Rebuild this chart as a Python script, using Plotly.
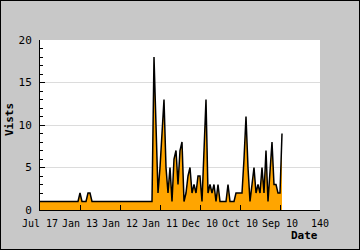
import plotly.graph_objects as go

# ---- data ----
visits = [1]*20 + [2, 1, 1, 1, 2, 2] + [1]*31 + [
    18, 10, 2, 5, 9, 13, 5, 2, 5, 1,      # 57-66
    6, 7, 3, 7, 8, 1, 2, 4, 5, 2,         # 67-76
    3, 2, 4, 4, 1, 7, 13, 2, 3, 2,        # 77-86
    3, 1, 3, 1, 1, 1, 1, 3, 1, 1,         # 87-96
    1, 2, 2, 2, 2, 6, 11, 5, 1, 3,        # 97-106
    5, 2, 3, 2, 5, 2, 7, 1, 5, 8,         # 107-116
    3, 3, 2, 2, 9                         # 117-121
]
days = list(range(len(visits)))
tick_vals = [0, 20, 40, 60, 80, 100, 120, 140]
tick_text = ["Jul 17", "Jan 13", "Jan 12", "Jan 11", "Dec 10", "Oct 10", "Sep 10", "140"]
y_ticks = [0, 5, 10, 15, 20]

W, H = 360, 250
L, R, T, B = 40, 40, 40, 40
pw, ph = W - L - R, H - T - B

fig = go.Figure()
fig.add_trace(go.Scatter(
    x=days, y=visits, mode="lines", fill="tozeroy",
    fillcolor="#FFA500", line=dict(color="#000000", width=1.5),
    hoverinfo="skip", showlegend=False))

mono = "DejaVu Sans Mono"
fig.update_layout(
    width=W, height=H,
    margin=dict(l=L, r=R, t=T, b=B, pad=0),
    paper_bgcolor="#C8C8C8", plot_bgcolor="#FFFFFF",
    font=dict(family=mono, size=10, color="#000000"),
    xaxis=dict(range=[0, 140], tickvals=tick_vals, ticktext=tick_text,
               ticks="inside", ticklen=5, tickcolor="#000", tickwidth=1,
               showline=True, linecolor="#000", linewidth=1,
               showgrid=False, zeroline=False, fixedrange=True,
               ticklabelstandoff=4,
               tickfont=dict(family=mono, size=10)),
    yaxis=dict(range=[0, 20], tickvals=y_ticks,
               ticks="inside", ticklen=5, tickcolor="#000", tickwidth=1,
               showline=True, linecolor="#000", linewidth=1,
               showgrid=True, gridcolor="#DCDCDC", gridwidth=1,
               zeroline=False, fixedrange=True, ticklabelstandoff=5,
               minor=dict(dtick=1, ticks="inside", ticklen=3, tickcolor="#000",
                          showgrid=False),
               tickfont=dict(family=mono, size=11)),
    annotations=[
        dict(text="<b>Date</b>", xref="paper", yref="paper", x=1.0, y=-26/ph,
             xanchor="right", yanchor="middle", showarrow=False,
             font=dict(family=mono, size=11)),
        dict(text="<b>Vists</b>", xref="paper", yref="paper", x=-31/pw, y=(210-120)/ph,
             xanchor="center", yanchor="middle", showarrow=False, textangle=-90,
             font=dict(family=mono, size=11)),
        # outer black frame of the image
        dict(text="", xref="paper", yref="paper", x=0.5, y=0.5,
             xanchor="center", yanchor="middle", showarrow=False,
             width=W - 2, height=H - 2, borderwidth=1, bordercolor="#000",
             borderpad=0, bgcolor="rgba(0,0,0,0)"),
    ],
)
fig.write_html("out.html")
